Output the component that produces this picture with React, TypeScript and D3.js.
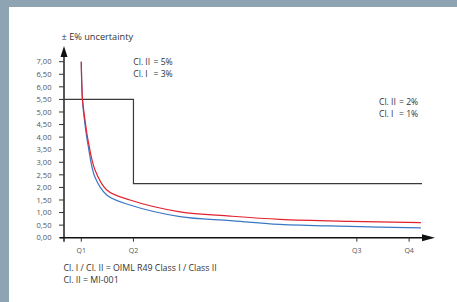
import * as d3 from 'd3';

// flow positions (0..100 along the axis) and error values
const flow = [4.83, 5.17, 5.87, 6.7, 8.66, 11.93, 18.44, 32.4, 46.4, 60.3, 79.9, 99.7];
const errRed = [7.0, 5.5, 4.68, 3.89, 2.69, 1.9, 1.5, 1.03, 0.86, 0.73, 0.65, 0.6];
const errBlue = [7.0, 5.45, 4.5, 3.7, 2.4, 1.7, 1.3, 0.84, 0.68, 0.53, 0.45, 0.39];

// max permissible error step (Q1..Q2 upper zone, Q2..end lower zone)
const stepFlow = [0, 19.4, 100];
const stepErr = [5.5, 2.15, 2.15];

const qLabels = ['Q1', 'Q2', 'Q3', 'Q4'];
const qFlow = [4.83, 19.4, 81.8, 96.4];

const yTicks = d3.range(0, 7.01, 0.5);

const FONT = '"Open Sans", sans-serif';

export default function App() {
  const W = 457, H = 302;
  const x = d3.scaleLinear().domain([0, 100]).range([64, 422]);
  const y = d3.scaleLinear().domain([0, 7]).range([237.7, 61.7]);
  const fmt = (v: number) => v.toFixed(2).replace('.', ',');

  const line = d3.line<[number, number]>()
    .x(d => x(d[0])).y(d => y(d[1]))
    .curve(d3.curveCatmullRom.alpha(0.5));
  const step = d3.line<[number, number]>()
    .x(d => x(d[0])).y(d => y(d[1]))
    .curve(d3.curveStepAfter);

  const redPts = flow.map((f, i) => [f, errRed[i]] as [number, number]);
  const bluePts = flow.map((f, i) => [f, errBlue[i]] as [number, number]);
  const stepPts = stepFlow.map((f, i) => [f, stepErr[i]] as [number, number]);

  const x0 = x(0), yb = y(0);

  return (
    <svg width={W} height={H} style={{ position: 'fixed', left: 0, top: 0 }}>
      <rect width={W} height={H} fill="#8fa4b2" />
      <rect x={9} y={7} width={W - 9} height={H - 7} fill="#fff" />

      {/* y axis */}
      <line x1={x0} x2={x0} y1={56} y2={yb + 4} stroke="#111" strokeWidth={1.4} />
      <path d={`M${x0},46 L${x0 - 3.5},57 L${x0 + 3.5},57 Z`} fill="#111" />
      {yTicks.map(t => (
        <g key={t}>
          <line x1={x0 - 5} x2={x0} y1={y(t)} y2={y(t)} stroke="#333" strokeWidth={1} />
          <text x={51.5} y={y(t)} dy="0.35em" textAnchor="end" fontSize={7.6}
            fontFamily={FONT} fill="#555">{fmt(t)}</text>
        </g>
      ))}
      <text x={61.5} y={40} fontSize={9.2} fontFamily={FONT} fill="#333">± E% uncertainty</text>

      {/* x axis */}
      <line x1={60} x2={424} y1={yb} y2={yb} stroke="#111" strokeWidth={1.4} />
      <path d={`M435,${yb} L422,${yb - 3.5} L422,${yb + 3.5} Z`} fill="#111" />
      {qLabels.map((q, i) => (
        <g key={q}>
          <line x1={x(qFlow[i])} x2={x(qFlow[i])} y1={yb} y2={yb + 4} stroke="#333" strokeWidth={1} />
          <text x={x(qFlow[i])} y={yb + 13} dy="0.35em" textAnchor="middle" fontSize={7}
            fontFamily={FONT} fill="#555">{q}</text>
        </g>
      ))}

      {/* limits */}
      <path d={step(stepPts) || ''} fill="none" stroke="#3a3a3a" strokeWidth={1.2} />

      {/* curves */}
      <path d={line(bluePts) || ''} fill="none" stroke="#3a78c4" strokeWidth={1.2} />
      <path d={line(redPts) || ''} fill="none" stroke="#e3222f" strokeWidth={1.2} />

      {/* annotations */}
      <g fontFamily={FONT} fontSize={8.6} fill="#333">
        <text x={133.3} y={62} dy="0.35em">Cl. II</text>
        <text x={153.5} y={62} dy="0.35em">= 5%</text>
        <text x={133.3} y={74} dy="0.35em">Cl. I</text>
        <text x={153.5} y={74} dy="0.35em">= 3%</text>

        <text x={379} y={101.7} dy="0.35em">Cl. II</text>
        <text x={399} y={101.7} dy="0.35em">= 2%</text>
        <text x={379} y={114} dy="0.35em">Cl. I</text>
        <text x={399} y={114} dy="0.35em">= 1%</text>

        <text x={63.5} y={268} dy="0.35em" fontSize={8.8}>Cl. I / Cl. II = OIML R49 Class I / Class II</text>
        <text x={63.5} y={279.8} dy="0.35em" fontSize={8.8}>Cl. II = MI-001</text>
      </g>
    </svg>
  );
}
